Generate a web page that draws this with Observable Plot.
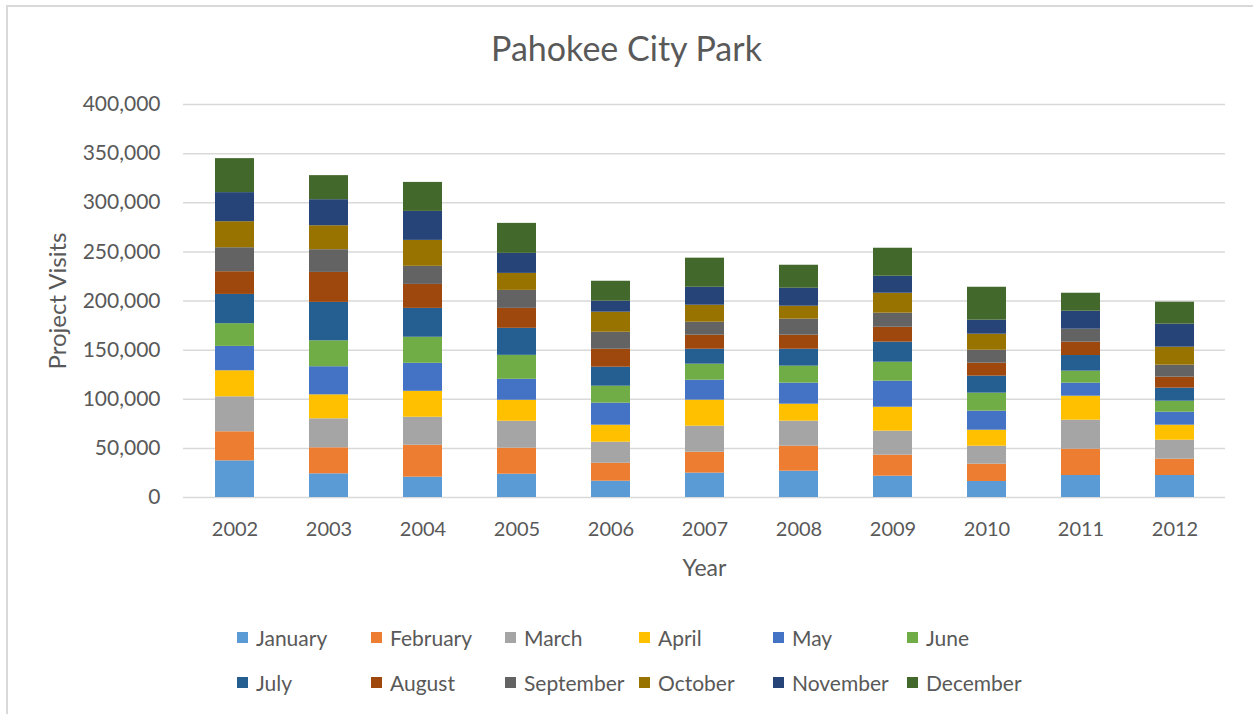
<!DOCTYPE html>
<html>
<head>
<meta charset="utf-8">
<script src="https://cdn.jsdelivr.net/npm/d3@7"></script>
<script src="https://cdn.jsdelivr.net/npm/@observablehq/plot@0.6"></script>
<style>
  html, body { margin: 0; padding: 0; background: #fff; }
  #wrap { position: relative; width: 1253px; height: 714px; font-family: Lato, "Open Sans", sans-serif; color: #595959; overflow: hidden; }
  #border { position: absolute; left: 6px; top: 5px; width: 1300px; height: 800px; border-left: 2px solid #d9d9d9; border-top: 2px solid #d9d9d9; box-sizing: border-box; }
  #title { position: absolute; left: 0; top: 0; width: 1253px; height: 96px; line-height: 96px; text-align: center; font-size: 34px; }
  #chart { position: absolute; left: 0; top: 80px; }
  #legend { position: absolute; left: 237px; top: 615px; display: grid; grid-template-columns: repeat(6, 134px); grid-auto-rows: 45px; font-size: 21px; }
  .item { display: flex; align-items: center; height: 45px; white-space: nowrap; }
  .sw { width: 11px; height: 11px; margin-right: 8px; flex: none; }
</style>
</head>
<body>
<div id="wrap">
  <div id="border"></div>
  <div id="title">Pahokee City Park</div>
  <div id="chart"></div>
  <div id="legend"></div>
</div>
<script>
const years = ["2002","2003","2004","2005","2006","2007","2008","2009","2010","2011","2012"];
const months = ["January","February","March","April","May","June","July","August","September","October","November","December"];
const monthColors = ["#5B9BD5","#ED7D31","#A5A5A5","#FFC000","#4472C4","#70AD47","#255E91","#9E480E","#636363","#997300","#264478","#43682B"];
const yTicks = [0, 50000, 100000, 150000, 200000, 250000, 300000, 350000, 400000];

// visits per month, one value per year 2002..2012
const january   = [37300, 24100, 20700, 23700, 16600, 24800, 26800, 21700, 16300, 22400, 22400];
const february  = [29600, 26500, 32500, 26500, 18300, 21300, 25400, 21400, 17600, 26800, 16600];
const march     = [35600, 29500, 28500, 27400, 21400, 26500, 25500, 24400, 18300, 29500, 19300];
const april     = [26500, 24400, 26400, 21400, 17300, 26500, 17300, 24400, 16300, 24400, 15300];
const may       = [24800, 28600, 28500, 21300, 22400, 20300, 21400, 26500, 19400, 13300, 13200];
const june      = [23100, 26400, 26500, 24400, 17300, 16300, 17300, 19300, 18300, 12200, 11200];
const july      = [29800, 39100, 29400, 27500, 19300, 15200, 17200, 20400, 17300, 15900, 13300];
const august    = [23100, 30500, 24400, 20300, 18300, 14300, 14300, 15200, 13200, 13600, 11200];
const september = [24400, 23100, 18400, 18300, 17300, 13200, 16300, 14300, 13200, 13200, 12200];
const october   = [26500, 24400, 26400, 17300, 20400, 17300, 13200, 20300, 16300, 0, 18300];
const november  = [29600, 26500, 29500, 20400, 11200, 18300, 18300, 17300, 14300, 18300, 23400];
const december  = [34600, 24500, 29500, 30500, 20300, 29600, 23400, 28500, 33500, 18300, 22400];

const series = [january, february, march, april, may, june, july, august, september, october, november, december];
const data = years.flatMap((yr, i) => months.map((m, j) => ({year: yr, month: m, value: series[j][i]})));

const chart = Plot.plot({
  width: 1253,
  height: 520,
  marginTop: 24,
  marginBottom: 103,
  marginLeft: 183,
  marginRight: 28,
  style: {fontFamily: "Lato, 'Open Sans', sans-serif", fontSize: "21px", color: "#595959", background: "transparent", overflow: "visible"},
  x: {domain: years, paddingInner: 0.59, paddingOuter: 0.295, label: null},
  y: {domain: [0, 400000], label: null},
  color: {domain: months, range: monthColors},
  marks: [
    Plot.ruleY(yTicks, {stroke: "#d9d9d9", strokeWidth: 1.5}),
    Plot.barY(data, {x: "year", y: "value", fill: "month"}),
    Plot.axisX({tickSize: 0, tickPadding: 24, label: null, fontSize: 20}),
    Plot.axisY(yTicks, {tickSize: 0, tickPadding: 23, tickFormat: d3.format(","), label: null, fontSize: 21}),
    Plot.text(["Project Visits"], {text: d => d, frameAnchor: "left", textAnchor: "middle", dx: -125, rotate: -90, fontSize: 24}),
    Plot.text(["Year"], {text: d => d, frameAnchor: "bottom", textAnchor: "middle", dy: 78, fontSize: 23})
  ]
});
document.getElementById("chart").appendChild(chart);

const legend = document.getElementById("legend");
months.forEach((m, j) => {
  const it = document.createElement("div");
  it.className = "item";
  const sw = document.createElement("span");
  sw.className = "sw";
  sw.style.background = monthColors[j];
  const tx = document.createElement("span");
  tx.textContent = m;
  it.appendChild(sw);
  it.appendChild(tx);
  legend.appendChild(it);
});
</script>
</body>
</html>
